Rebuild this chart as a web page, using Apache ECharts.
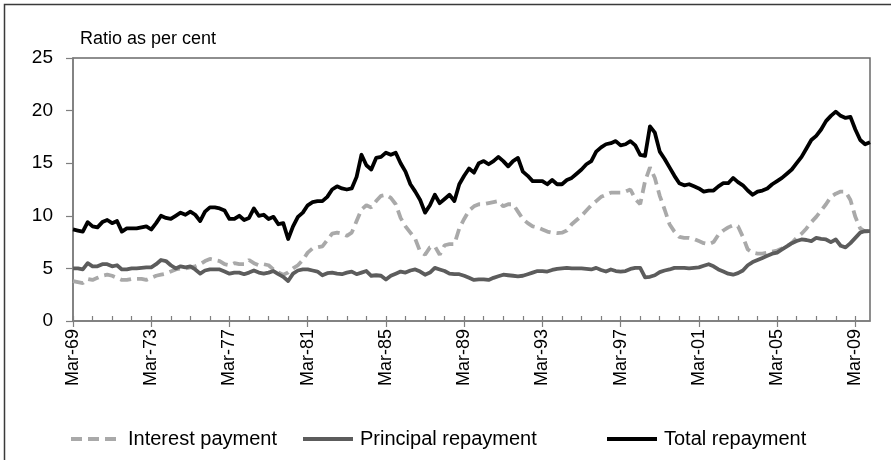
<!DOCTYPE html>
<html>
<head>
<meta charset="utf-8">
<script src="https://cdn.jsdelivr.net/npm/echarts@6/dist/echarts.min.js"></script>
<style>
  html, body { margin: 0; padding: 0; background: #fff; }
  #chart { width: 891px; height: 460px; }
</style>
</head>
<body>
<div id="chart"></div>
<script>
// quarterly, Mar-69 .. Dec-09
const months = ['Mar', 'Jun', 'Sep', 'Dec'];
const categories = [];
for (let y = 1969; y <= 2009; y++) {
  months.forEach(m => categories.push(m + '-' + String(y % 100).padStart(2, '0')));
}

const interest = [
  3.8, 3.7, 3.6, 4.0, 3.9, 4.1, 4.3, 4.4, 4.3, 4.1, 3.9, 3.9, 4.0, 4.0, 4.0, 3.9,
  4.1, 4.3, 4.4, 4.5, 4.7, 4.9, 5.0, 5.0, 5.1, 5.2, 5.4, 5.7, 5.9, 5.8, 5.7, 5.4,
  5.3, 5.5, 5.4, 5.4, 5.8, 5.5, 5.3, 5.4, 5.3, 4.9, 4.6, 4.4, 4.6, 5.0, 5.3, 5.8,
  6.5, 6.9, 7.0, 7.1, 7.7, 8.3, 8.4, 8.3, 8.1, 8.4, 9.5, 10.6, 11.0, 10.8, 11.4, 11.9,
  12.0, 11.7, 11.1, 9.8, 9.0, 8.4, 7.8, 6.6, 6.3, 7.0, 7.1, 6.3, 7.2, 7.3, 7.3, 8.8,
  9.7, 10.5, 10.9, 11.1, 11.1, 11.2, 11.3, 11.4, 10.9, 11.1, 11.1, 10.4, 9.7, 9.3, 9.0, 8.9,
  8.7, 8.5, 8.4, 8.35, 8.4, 8.6, 9.2, 9.6, 10.0, 10.5, 11.0, 11.4, 11.8, 12.0, 12.2, 12.2,
  12.2, 12.3, 12.5, 11.6, 11.1, 13.3, 14.6, 13.6, 11.9, 10.6, 9.2, 8.5, 8.0, 7.9, 7.9, 7.8,
  7.6, 7.4, 7.3, 7.5, 8.2, 8.6, 8.9, 9.1, 9.0, 8.0, 6.8, 6.5, 6.4, 6.4, 6.5, 6.6,
  6.7, 6.9, 7.1, 7.4, 7.9, 8.3, 8.8, 9.4, 9.9, 10.5, 11.1, 11.8, 12.1, 12.3, 12.3, 11.5,
  9.9, 8.8, 8.5, 8.55
];

const principal = [
  5.0, 5.0, 4.9, 5.5, 5.2, 5.2, 5.4, 5.4, 5.2, 5.3, 4.9, 4.9, 5.0, 5.0, 5.05, 5.1,
  5.1, 5.4, 5.8, 5.7, 5.3, 5.0, 5.2, 5.1, 5.2, 4.9, 4.5, 4.8, 4.9, 4.9, 4.9, 4.7,
  4.5, 4.6, 4.6, 4.45, 4.6, 4.8, 4.6, 4.5, 4.6, 4.75, 4.45, 4.2, 3.8, 4.5, 4.8, 4.9,
  4.9, 4.8, 4.7, 4.35, 4.55, 4.6, 4.5, 4.45, 4.6, 4.7, 4.45, 4.6, 4.75, 4.3, 4.35, 4.3,
  3.95, 4.3, 4.5, 4.7, 4.6, 4.8, 4.9, 4.7, 4.4, 4.6, 5.05, 4.9, 4.75, 4.5, 4.45, 4.45,
  4.3, 4.1, 3.9, 3.95, 3.95, 3.9, 4.1, 4.25, 4.4, 4.35, 4.3, 4.25, 4.3, 4.45, 4.6, 4.75,
  4.75, 4.7, 4.85, 4.95, 5.0, 5.05, 5.0, 5.0, 5.0, 4.95, 4.9, 5.05, 4.85, 4.7, 4.9, 4.75,
  4.7, 4.75, 4.95, 5.05, 5.05, 4.15, 4.2, 4.35, 4.65, 4.8, 4.9, 5.05, 5.05, 5.05, 5.0, 5.05,
  5.1, 5.25, 5.4, 5.2, 4.9, 4.7, 4.5, 4.4, 4.55, 4.8, 5.3, 5.6, 5.8, 6.0, 6.2, 6.4,
  6.5, 6.8, 7.1, 7.4, 7.6, 7.75, 7.7, 7.6, 7.9, 7.8, 7.75, 7.5, 7.75, 7.15, 7.0, 7.4,
  7.9, 8.4, 8.55, 8.55
];

const total = [
  8.7, 8.6, 8.5, 9.4, 9.0, 8.9, 9.4, 9.6, 9.3, 9.5, 8.5, 8.8, 8.8, 8.8, 8.9, 9.0,
  8.7, 9.3, 10.0, 9.8, 9.7, 10.0, 10.3, 10.1, 10.4, 10.1, 9.5, 10.4, 10.8, 10.8, 10.7, 10.5,
  9.7, 9.7, 10.0, 9.6, 9.8, 10.7, 10.0, 10.1, 9.7, 9.9, 9.2, 9.3, 7.8, 9.0, 9.9, 10.3,
  11.0, 11.3, 11.4, 11.4, 11.8, 12.5, 12.8, 12.6, 12.5, 12.6, 13.7, 15.8, 14.8, 14.4, 15.5, 15.6,
  16.0, 15.8, 16.0, 15.0, 14.2, 13.0, 12.3, 11.5, 10.3, 11.0, 12.0, 11.2, 11.6, 12.0, 11.4, 13.0,
  13.8, 14.5, 14.1, 15.0, 15.2, 14.9, 15.2, 15.6, 15.2, 14.7, 15.2, 15.5, 14.2, 13.8, 13.3, 13.3,
  13.3, 13.0, 13.4, 13.0, 13.0, 13.4, 13.6, 14.0, 14.4, 14.9, 15.2, 16.1, 16.5, 16.8, 16.9, 17.1,
  16.7, 16.8, 17.1, 16.7, 15.8, 15.7, 18.5, 17.9, 16.1, 15.4, 14.6, 13.8, 13.1, 12.9, 13.0, 12.8,
  12.6, 12.3, 12.4, 12.4, 12.8, 13.1, 13.1, 13.6, 13.2, 12.9, 12.4, 12.0, 12.3, 12.4, 12.6, 13.0,
  13.3, 13.6, 14.0, 14.4, 15.0, 15.6, 16.4, 17.2, 17.6, 18.2, 19.0, 19.5, 19.9, 19.5, 19.3, 19.4,
  18.2, 17.2, 16.8, 17.0
];

const yTicks = [0, 5, 10, 15, 20, 25];

const font = 'Arial, "Liberation Sans", sans-serif';
const axisGray = '#7f7f7f';

const chart = echarts.init(document.getElementById('chart'));

function legendAt(name, left) {
  return {
    data: [name],
    left: left,
    top: 424,
    itemWidth: 50,
    itemHeight: 14,
    itemGap: 6,
    itemStyle: { opacity: 0 },
    lineStyle: { width: 4 },
    textStyle: { fontSize: 20, color: '#000', fontFamily: font, padding: [0, 0, 0, 2] }
  };
}

const option = {
  backgroundColor: '#fff',
  animation: false,
  textStyle: { fontFamily: font },
  graphic: [
    {
      type: 'polyline',
      shape: { points: [[4.5, 470], [4.5, 4.5], [900, 4.5]] },
      style: { stroke: '#3a3a3a', lineWidth: 1.5, fill: null }
    },
    {
      type: 'text',
      left: 80,
      top: 30,
      style: { text: 'Ratio as per cent', fontSize: 18, fontFamily: font, fill: '#000' }
    }
  ],
  grid: {
    left: 73,
    right: 21,
    top: 58,
    bottom: 139,
    show: true,
    borderColor: '#6a6a6a',
    borderWidth: 1.5,
    containLabel: false
  },
  legend: [
    legendAt('Interest payment', 64),
    legendAt('Principal repayment', 296),
    legendAt('Total repayment', 600)
  ],
  xAxis: [
    {
      type: 'category',
      data: categories,
      boundaryGap: false,
      axisLine: { lineStyle: { color: axisGray, width: 1.5 } },
      axisTick: { interval: 3, inside: true, length: 5, lineStyle: { color: axisGray, width: 1.2 } },
      axisLabel: {
        interval: 15,
        rotate: 90,
        margin: 8,
        fontSize: 18,
        color: '#000',
        fontFamily: font
      },
      splitLine: { show: false }
    },
    {
      type: 'category',
      data: categories,
      boundaryGap: false,
      position: 'bottom',
      axisLine: { show: false },
      axisTick: { interval: 15, inside: false, length: 6, lineStyle: { color: axisGray, width: 1.2 } },
      axisLabel: { show: false },
      splitLine: { show: false }
    }
  ],
  yAxis: {
    type: 'value',
    min: yTicks[0],
    max: yTicks[yTicks.length - 1],
    interval: 5,
    axisLine: { show: true, lineStyle: { color: axisGray, width: 1.5 } },
    axisTick: { show: true, length: 7, lineStyle: { color: axisGray, width: 1.2 } },
    axisLabel: { margin: 20, fontSize: 19, color: '#000', fontFamily: font },
    splitLine: { show: false }
  },
  series: [
    {
      name: 'Interest payment',
      type: 'line',
      data: interest,
      symbol: 'none',
      color: '#a9a9a9',
      lineStyle: { color: '#a9a9a9', width: 3.8, type: [11, 6], cap: 'butt' },
      z: 2
    },
    {
      name: 'Principal repayment',
      type: 'line',
      data: principal,
      symbol: 'none',
      color: '#5c5c5c',
      lineStyle: { color: '#5c5c5c', width: 3.8, join: 'round' },
      z: 3
    },
    {
      name: 'Total repayment',
      type: 'line',
      data: total,
      symbol: 'none',
      color: '#000',
      lineStyle: { color: '#000', width: 3.8, join: 'round' },
      z: 4
    }
  ]
};

chart.setOption(option);
window.addEventListener('resize', () => chart.resize());
</script>
</body>
</html>
